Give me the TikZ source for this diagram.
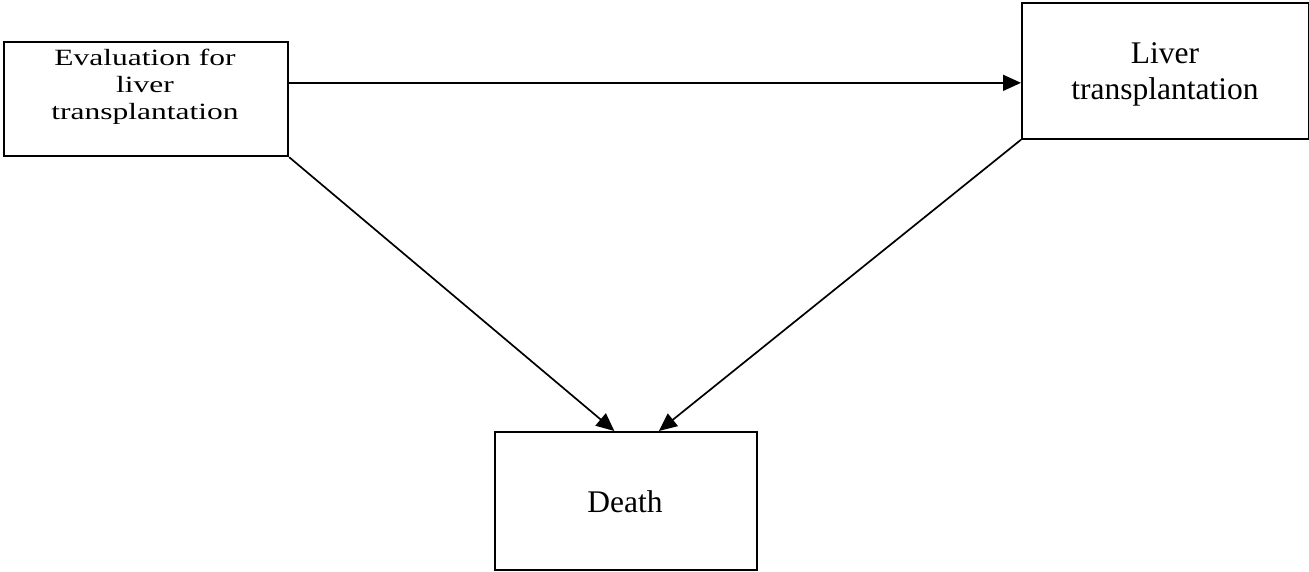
\documentclass[tikz,border=0pt]{standalone}
\usepackage{fontspec}
\setmainfont{Liberation Serif}
\usetikzlibrary{arrows.meta,calc}
\begin{document}
\begin{tikzpicture}[x=1pt,y=-1pt,
  box/.style={draw, line width=2.2pt, inner sep=0pt, anchor=north west},
  conn/.style={line width=1.7pt, -{Triangle[length=18pt,width=16pt]}},
  txt/.style={font=\fontsize{31.5}{36.5}\selectfont, inner sep=0pt}]
\useasboundingbox (0,0) rectangle (1309,571);
\node[box, minimum width=284pt, minimum height=114pt] (eval) at (3,41) {};
\node[box, minimum width=286.5pt, minimum height=136pt] (lt) at (1021,1.5) {};
\node[box, minimum width=261.5pt, minimum height=138pt] (death) at (494,431) {};
\node[txt] (evalt) at (145,87) {\scalebox{1}[0.74]{\begin{tabular}{@{}c@{}}Evaluation for\\liver\\transplantation\end{tabular}}};
\node[txt] (ltt) at (1165,74.4) {\begin{tabular}{@{}c@{}}Liver\\transplantation\end{tabular}};
\node[txt, anchor=base] (deatht) at (625,512.3) {Death};
\coordinate (s) at ($(eval.north east)!0.36!(eval.south east)$);
\draw[conn] (s) -- (s -| lt.west);
\draw[conn] (eval.south east) -- ([xshift=-11.5pt]death.north);
\draw[conn] (lt.south west) -- ([xshift=33pt]death.north);
\end{tikzpicture}
\end{document}
